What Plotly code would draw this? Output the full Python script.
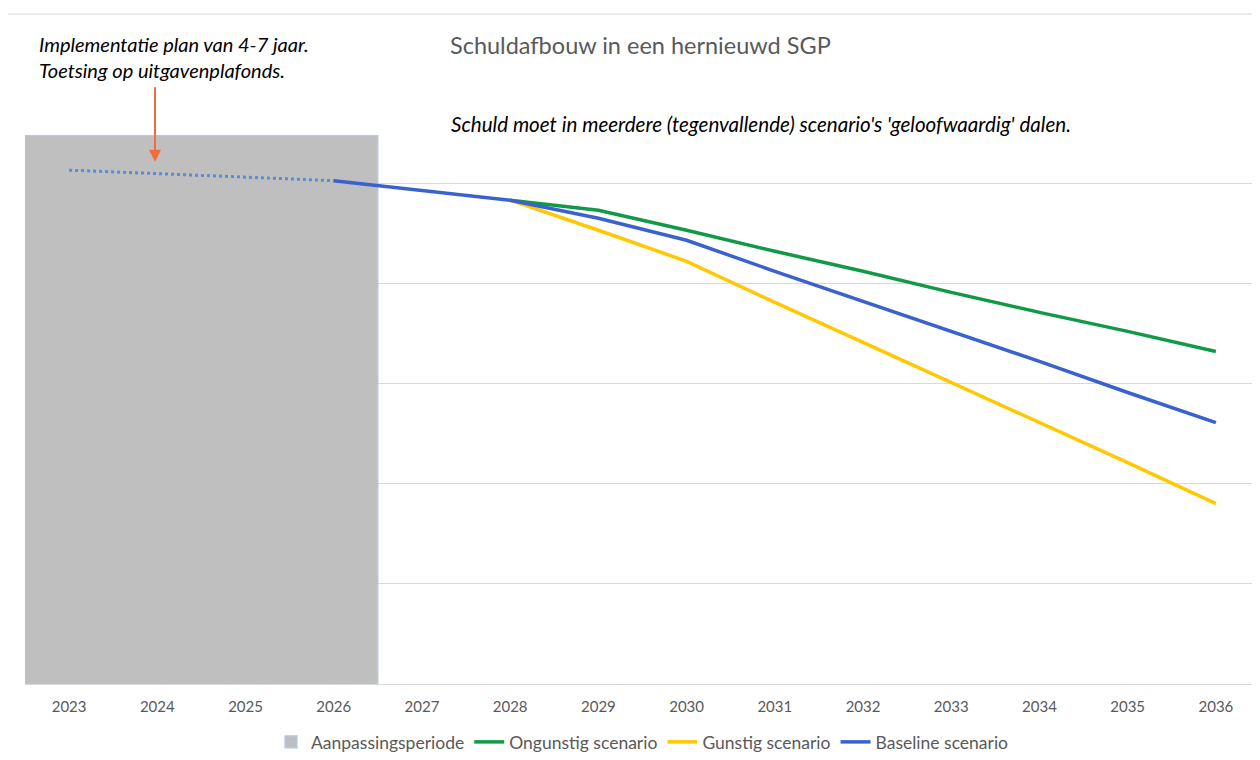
import plotly.graph_objects as go
import numpy as np

years = list(range(2023, 2037))
period_years = [2023, 2024, 2025, 2026]
period_height = 109.5

dotted_years = [2023, 2024, 2025, 2026]
dotted_vals = [102.6, 101.9, 101.2, 100.5]

common_years = [2026, 2027, 2028]
common_vals = [100.5, 98.6, 96.6]

scen_years = [2028, 2029, 2030, 2031, 2032, 2033, 2034, 2035, 2036]
ongunstig = [96.6, 94.6, 90.6, 86.4, 82.4, 78.2, 74.2, 70.4, 66.4]
gunstig = [96.6, 90.6, 84.4, 76.2, 68.2, 60.2, 52.2, 44.2, 36.0]
baseline = [96.6, 93.0, 88.6, 82.4, 76.4, 70.4, 64.4, 58.2, 52.2]

GREEN = "#109A47"
YELLOW = "#FFC800"
BLUE = "#3A62CF"
LIGHTBLUE = "#5B8BD6"
GRID = "#D9D9D9"
TXT = "#595959"
FONT = "Lato, Open Sans, sans-serif"

OFF = 8  # page body margin
W, H = 1260 - OFF, 760 - OFF
L, T, B = 25 - OFF, 83 - OFF, 685 - OFF
PW, PH = W - L, B - T


def pp(sx, sy):
    """screen pixel -> paper coordinates"""
    return (sx - OFF - L) / PW, (B - (sy - OFF)) / PH


fig = go.Figure()

fig.add_trace(go.Bar(
    x=[float(np.mean(period_years))], y=[period_height], width=[len(period_years)],
    marker=dict(color="#BFBFBF", line=dict(color="#B4C7E7", width=1.2)),
    name="Aanpassingsperiode", showlegend=True,
))

fig.add_trace(go.Scatter(x=dotted_years, y=dotted_vals, mode="lines",
                         line=dict(color=LIGHTBLUE, width=3, dash="dot"),
                         showlegend=False, hoverinfo="skip"))

fig.add_trace(go.Scatter(x=scen_years, y=ongunstig, mode="lines",
                         line=dict(color=GREEN, width=3.5), name="Ongunstig scenario"))
fig.add_trace(go.Scatter(x=scen_years, y=gunstig, mode="lines",
                         line=dict(color=YELLOW, width=3.5), name="Gunstig scenario"))
fig.add_trace(go.Scatter(x=common_years + scen_years[1:], y=common_vals + baseline[1:], mode="lines",
                         line=dict(color=BLUE, width=3.5), name="Baseline scenario"))

_, ty_title = pp(0, 45)
ax_, ay_ = pp(37, 57)
bx_, by_ = pp(449, 124)
ax1, ay1 = pp(155, 162)

fig.update_layout(
    width=W, height=H,
    margin=dict(l=L, r=0, t=T, b=H - B),
    paper_bgcolor="white", plot_bgcolor="white",
    font=dict(family=FONT, color=TXT, size=15),
    barmode="overlay",
    showlegend=True,
    legend=dict(orientation="h", x=0.5, xanchor="center", y=pp(0, 743)[1], yanchor="middle",
                font=dict(size=17.5, color=TXT), traceorder="normal"),
    xaxis=dict(range=[2022.5, 2036.5], tickmode="array", tickvals=years,
               ticktext=[str(y) for y in years], showgrid=False, zeroline=False,
               showline=True, linecolor=GRID, linewidth=1, ticks="",
               ticklabelstandoff=9,
               tickfont=dict(size=15, color=TXT)),
    yaxis=dict(range=[0, 120], dtick=20, showgrid=True, gridcolor=GRID, gridwidth=1,
               showticklabels=False, zeroline=False, showline=False),
    annotations=[
        dict(text="Schuldafbouw in een hernieuwd SGP", x=pp(640, 0)[0], xref="paper",
             xanchor="center", y=ty_title, yref="paper", yanchor="middle", showarrow=False,
             font=dict(size=23.5, color=TXT)),
        dict(text="<i>Implementatie plan van 4-7 jaar.<br>Toetsing op uitgavenplafonds.</i>",
             x=ax_, y=ay_, xref="paper", yref="paper", showarrow=False, align="left",
             xanchor="left", yanchor="middle", font=dict(size=20, color="black")),
        dict(text="<i>Schuld moet in meerdere (tegenvallende) scenario's 'geloofwaardig' dalen.</i>",
             x=bx_, y=by_, xref="paper", yref="paper", showarrow=False, xanchor="left",
             yanchor="middle", font=dict(size=20.6, color="black")),
        dict(x=ax1, y=ay1, ax=0, ay=-76, xref="paper", yref="paper",
             axref="pixel", ayref="pixel", text="", showarrow=True,
             arrowhead=2, arrowsize=1.2, arrowwidth=2, arrowcolor="#F26B3A"),
    ],
)

tx0, ty = pp(7, 14)
fig.add_shape(type="line", xref="paper", yref="paper", x0=tx0, x1=1, y0=ty, y1=ty,
              line=dict(color=GRID, width=1))

fig.write_html("out.html")
